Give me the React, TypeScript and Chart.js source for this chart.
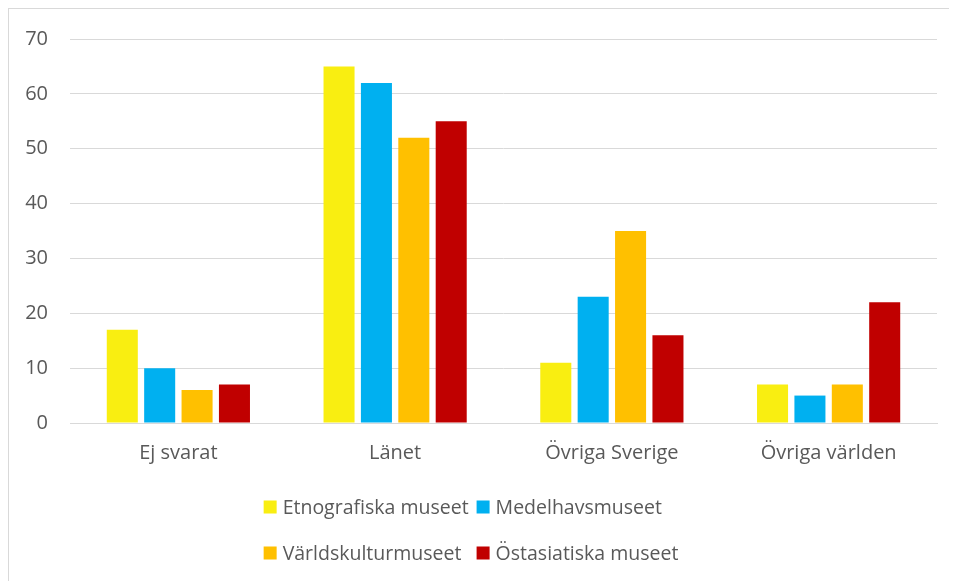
import React, { useEffect, useRef } from "react";
import { Chart, registerables } from "chart.js";

Chart.register(...registerables);

const categories = ["Ej svarat", "Länet", "Övriga Sverige", "Övriga världen"];
const seriesNames = ["Etnografiska museet", "Medelhavsmuseet", "Världskulturmuseet", "Östasiatiska museet"];
const etnografiska = [17, 65, 11, 7];
const medelhavs = [10, 62, 23, 5];
const varldskultur = [6, 52, 35, 7];
const ostasiatiska = [7, 55, 16, 22];
const seriesColors = ["#F9EE11", "#00B0F0", "#FFC000", "#C00000"];
const yTicks = [0, 10, 20, 30, 40, 50, 60, 70];

const FONT = '"Open Sans", sans-serif';
const TICK_SIZE = 20;
const LEGEND_SIZE = 19.5;
const TEXT_COLOR = "#595959";
const GRID_COLOR = "#D9D9D9";

const twoRowLegend = {
  id: "twoRowLegend",
  afterDraw(chart: any) {
    const ctx = chart.ctx;
    const ds = chart.data.datasets;
    const box = 13;
    const gap = 6;
    const colSpacing = 8;
    ctx.save();
    ctx.font = `${LEGEND_SIZE}px ${FONT}`;
    const colW = [0, 0];
    ds.forEach((d: any, i: number) => {
      const w = box + gap + ctx.measureText(d.label).width;
      colW[i % 2] = Math.max(colW[i % 2], w);
    });
    const total = colW[0] + colSpacing + colW[1];
    const centerX = chart.width / 2 - 12;
    const x0 = centerX - total / 2;
    const rowY = [chart.chartArea.bottom + 84, chart.chartArea.bottom + 130];
    ctx.textBaseline = "middle";
    ctx.textAlign = "left";
    ds.forEach((d: any, i: number) => {
      const col = i % 2;
      const row = Math.floor(i / 2);
      const x = col === 0 ? x0 : x0 + colW[0] + colSpacing;
      const y = rowY[row];
      ctx.fillStyle = d.backgroundColor;
      ctx.fillRect(x, y - box / 2, box, box);
      ctx.fillStyle = TEXT_COLOR;
      ctx.fillText(d.label, x + box + gap, y + 1);
    });
    ctx.restore();
  },
};

export default function App() {
  const canvasRef = useRef<HTMLCanvasElement | null>(null);

  useEffect(() => {
    if (!canvasRef.current) return;
    const values = [etnografiska, medelhavs, varldskultur, ostasiatiska];
    const chart = new Chart(canvasRef.current, {
      type: "bar",
      data: {
        labels: categories,
        datasets: seriesNames.map((name, i) => ({
          label: name,
          data: values[i],
          backgroundColor: seriesColors[i],
          borderWidth: 0,
          barPercentage: 0.83,
          categoryPercentage: 0.69,
        })),
      },
      options: {
        animation: false,
        responsive: true,
        maintainAspectRatio: false,
        layout: { padding: { top: 30, right: 20, bottom: 108, left: 0 } },
        plugins: {
          legend: { display: false },
          tooltip: { enabled: false },
        },
        scales: {
          x: {
            grid: { display: false, drawTicks: false },
            border: { display: true, color: GRID_COLOR, width: 1 },
            ticks: {
              color: TEXT_COLOR,
              font: { family: FONT, size: TICK_SIZE },
              padding: 18,
              maxRotation: 0,
            },
            afterFit: (scale: any) => {
              scale.height = 50;
              scale.paddingLeft = 0;
              scale.paddingRight = 0;
            },
          },
          y: {
            min: 0,
            max: 70,
            afterBuildTicks: (scale: any) => {
              scale.ticks = yTicks.map((v) => ({ value: v }));
            },
            grid: { color: GRID_COLOR, lineWidth: 1, drawTicks: false },
            border: { display: false },
            ticks: {
              color: TEXT_COLOR,
              font: { family: FONT, size: TICK_SIZE },
              padding: 22,
            },
            afterFit: (scale: any) => {
              scale.width = 61;
              scale.paddingTop = 0;
              scale.paddingBottom = 0;
            },
          },
        },
      },
      plugins: [twoRowLegend],
    });
    return () => chart.destroy();
  }, []);

  return (
    <div
      style={{
        position: "relative",
        width: 949,
        height: 573,
        boxSizing: "border-box",
        borderLeft: "1px solid #D9D9D9",
        borderTop: "1px solid #D9D9D9",
      }}
    >
      <canvas ref={canvasRef} />
    </div>
  );
}
